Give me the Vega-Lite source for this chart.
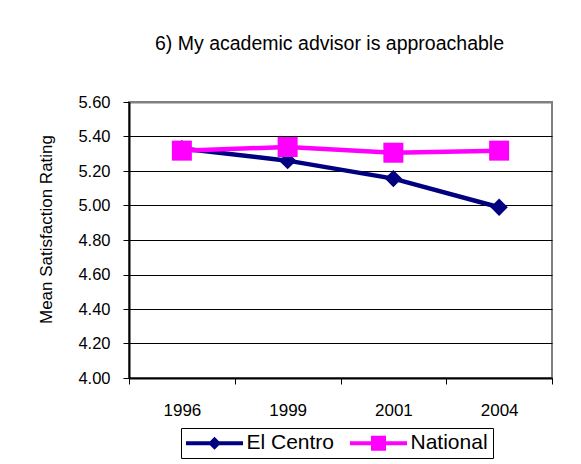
{
  "$schema": "https://vega.github.io/schema/vega-lite/v6.json",
  "width": 423,
  "height": 276,
  "autosize": {"type": "none"},
  "padding": {"left": 129, "top": 102, "right": 29, "bottom": 86},
  "background": "white",
  "title": {
    "text": "6) My academic advisor is approachable",
    "font": "Liberation Sans",
    "fontSize": 19.5,
    "fontWeight": "normal",
    "color": "black",
    "anchor": "middle",
    "dx": -11,
    "baseline": "alphabetic",
    "offset": 25
  },
  "data": {
    "values": [
      {"year": "1996", "series": "El Centro", "value": 5.33},
      {"year": "1999", "series": "El Centro", "value": 5.26},
      {"year": "2001", "series": "El Centro", "value": 5.156},
      {"year": "2004", "series": "El Centro", "value": 4.99},
      {"year": "1996", "series": "National", "value": 5.318},
      {"year": "1999", "series": "National", "value": 5.339},
      {"year": "2001", "series": "National", "value": 5.306},
      {"year": "2004", "series": "National", "value": 5.318}
    ]
  },
  "encoding": {
    "x": {
      "field": "year",
      "type": "ordinal",
      "bandPosition": 0.5,
      "scale": {"type": "band", "paddingInner": 0, "paddingOuter": 0},
      "axis": {
        "title": null,
        "labelAngle": 0,
        "grid": false,
        "tickBand": "extent",
        "tickSize": 6,
        "tickColor": "black",
        "domainColor": "black",
        "domainWidth": 2,
        "labelPadding": 18,
        "labelFont": "Liberation Sans",
        "labelFontSize": 17,
        "labelColor": "black"
      }
    },
    "y": {
      "field": "value",
      "type": "quantitative",
      "scale": {"domain": [4, 5.6], "nice": false, "zero": false},
      "axis": {
        "title": "Mean Satisfaction Rating",
        "values": [4, 4.2, 4.4, 4.6, 4.8, 5, 5.2, 5.4, 5.6],
        "format": ".2f",
        "grid": true,
        "gridColor": {"condition": {"test": "datum.value >= 5.59", "value": "#808080"}, "value": "black"},
        "gridWidth": {"condition": {"test": "datum.value >= 5.59", "value": 2}, "value": 1},
        "tickSize": 6,
        "tickColor": "black",
        "domainColor": "black",
        "domainWidth": 2,
        "labelPadding": 13,
        "labelFont": "Liberation Sans",
        "labelFontSize": 16.5,
        "labelColor": "black",
        "titleFont": "Liberation Sans",
        "titleFontSize": 17,
        "titleFontWeight": "normal",
        "titleColor": "black",
        "titleX": -83,
        "titleY": 127,
        "titleAngle": 270,
        "titleAlign": "center",
        "titleBaseline": "middle"
      }
    },
    "color": {
      "field": "series",
      "type": "nominal",
      "scale": {"domain": ["El Centro", "National"], "range": ["#000080", "#FF00FF"]},
      "legend": {
        "title": null,
        "orient": "none",
        "legendX": 52,
        "legendY": 326,
        "direction": "horizontal",
        "strokeColor": "black",
        "fillColor": "white",
        "padding": 4.5,
        "labelFont": "Liberation Sans",
        "labelFontSize": 21,
        "labelColor": "black",
        "symbolSize": 400,
        "labelOffset": 40,
        "columnPadding": 15,
        "encode": {
          "symbols": {
            "update": {
              "shape": {"signal": "datum.value === 'El Centro' ? 'M-1,-0.2H4.7V0.2H-1Z M1.85,-0.65L2.5,0L1.85,0.65L1.2,0Z' : 'M-1,-0.2H4.7V0.2H-1Z M1.1,-0.75H2.6V0.75H1.1Z'"},
              "fill": {"signal": "datum.value === 'El Centro' ? '#000080' : '#FF00FF'"},
              "fillOpacity": {"value": 1},
              "opacity": {"value": 1},
              "stroke": {"value": "transparent"},
              "strokeWidth": {"value": 0}
            }
          }
        }
      }
    }
  },
  "layer": [
    {
      "mark": {"type": "line", "strokeWidth": 4.5}
    },
    {
      "transform": [{"filter": "datum.series === 'El Centro'"}],
      "mark": {"type": "point", "filled": true, "opacity": 1, "shape": "diamond", "size": 300}
    },
    {
      "transform": [{"filter": "datum.series === 'National'"}],
      "mark": {"type": "point", "filled": true, "opacity": 1, "shape": "square", "size": 400}
    }
  ],
  "config": {
    "view": {"stroke": "#808080", "strokeWidth": 2}
  }
}
